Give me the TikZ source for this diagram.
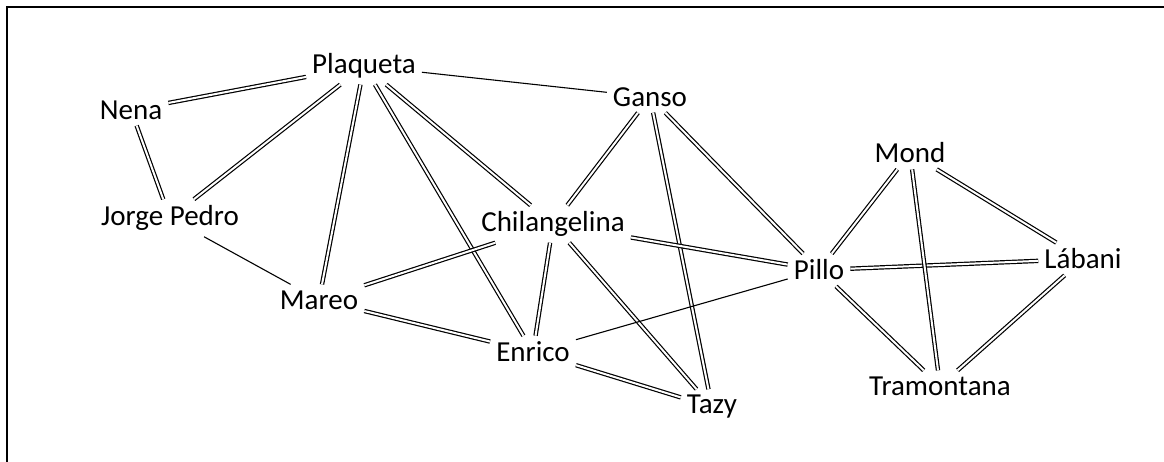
\documentclass[tikz,border=0pt]{standalone}
\usepackage{fontspec}
\setmainfont{Carlito}
\begin{document}
\begin{tikzpicture}[x=1pt,y=-1pt]
\tikzstyle{every node}+=[inner sep=6pt, font=\fontsize{29}{34}\selectfont]
\tikzstyle{dbl}=[black, line width=1.2pt, double=white, double distance=2pt]
\tikzstyle{sgl}=[black, line width=1.1pt]
\useasboundingbox (0,0) rectangle (1164,462);
\draw [black, line width=2.2pt] (7,462) -- (7,7) -- (1164,7);
% nodes
\node (plaqueta) at (364,66) {Plaqueta};
\node (nena) at (131,110) {Nena};
\node (jorge) at (170,218) {Jorge Pedro};
\node (ganso) at (650,97) {Ganso};
\node (chil) at (553,224) {Chilangelina};
\node (mareo) at (319,300) {Mareo};
\node (enrico) at (533,352) {Enrico};
\node (tazy) at (712,407) {Tazy};
\node (mond) at (910,153) {Mond};
\node (pillo) at (819,270) {Pillo};
\node (labani) at (1083,259) {Lábani};
\node (tram) at (940,386) {Tramontana};
% double edges
\draw [dbl] (nena) -- (plaqueta);
\draw [dbl] (nena) -- (jorge);
\draw [dbl] (jorge) -- (plaqueta);
\draw [dbl] (plaqueta) -- (mareo);
\draw [dbl] (plaqueta) -- (enrico);
\draw [dbl] (plaqueta) -- (chil);
\draw [dbl] (ganso) -- (chil);
\draw [dbl] (ganso) -- (tazy);
\draw [dbl] (ganso) -- (pillo);
\draw [dbl] (chil) -- (mareo);
\draw [dbl] (chil) -- (enrico);
\draw [dbl] (chil) -- (tazy);
\draw [dbl] (chil) -- (pillo);
\draw [dbl] (mareo) -- (enrico);
\draw [dbl] (enrico) -- (tazy);
\draw [dbl] (pillo) -- (mond);
\draw [dbl] (pillo) -- (labani);
\draw [dbl] (pillo) -- (tram);
\draw [dbl] (mond) -- (tram);
\draw [dbl] (mond) -- (labani);
\draw [dbl] (labani) -- (tram);
% single edges
\draw [sgl] (plaqueta) -- (ganso);
\draw [sgl] (jorge) -- (mareo);
\draw [sgl] (enrico) -- (pillo);
\end{tikzpicture}
\end{document}
